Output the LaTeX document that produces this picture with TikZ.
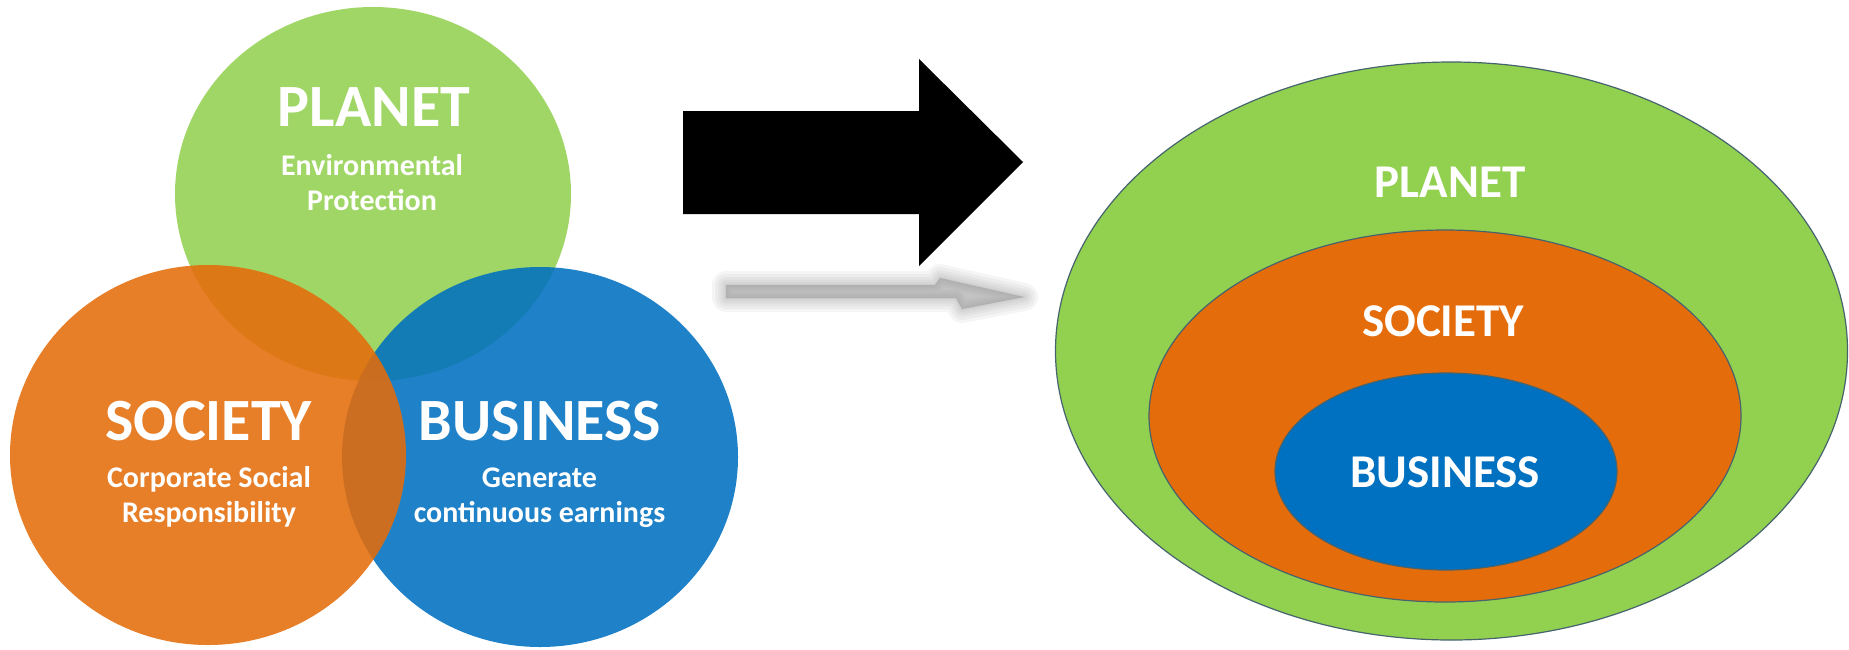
\documentclass[tikz,border=0pt]{standalone}
\usepackage{fontspec}
\setmainfont{Carlito}
\usetikzlibrary{shapes.geometric}
\definecolor{planetgreen}{RGB}{146,208,80}
\definecolor{societyorange}{RGB}{228,108,10}
\definecolor{businessblue}{RGB}{0,112,192}
\definecolor{ringline}{RGB}{70,100,110}

\begin{document}
\begin{tikzpicture}[x=1pt,y=-1pt,
  venn/.style={ellipse,inner sep=0pt,fill opacity=0.88},
  ring/.style={ellipse,inner sep=0pt,draw=ringline,line width=1.2pt},
  bigtxt/.style={text=white,font=\fontsize{60}{60}\selectfont\bfseries,inner sep=0pt},
  subtxt/.style={text=white,font=\fontsize{30}{35}\selectfont\bfseries,align=center,anchor=base,inner sep=0pt},
  ringtxt/.style={text=white,font=\fontsize{47}{47}\selectfont\bfseries,inner sep=0pt}]
\useasboundingbox (0,0) rectangle (1849,649);
% three overlapping circles
\node[venn,fill=planetgreen,minimum width=396pt,minimum height=374pt] (planetL) at (373,194) {};
\node[venn,fill=businessblue,minimum width=396pt,minimum height=380pt] (businessL) at (540,457) {};
\node[venn,fill=societyorange,minimum width=396pt,minimum height=380pt] (societyL) at (208,455) {};
\node[bigtxt] (planetT) at (374,107.5) {PLANET};
\node[subtxt] (planetS) at (372,210) {Environmental\\Protection};
\node[bigtxt] (societyT) at (208.5,421) {SOCIETY};
\node[subtxt] (societyS) at (209,522) {Corporate Social\\Responsibility};
\node[bigtxt] (businessT) at (540,421) {BUSINESS};
\node[subtxt] (businessS) at (539.5,522) {Generate\\continuous earnings};
% arrow with its soft shadow
\foreach \w in {28,22,16,11,6,2}
  \filldraw[black!50,opacity=0.08,line width=\w pt,line join=round]
    (726,285) -- (935,285) -- (940,278) -- (1024,297) -- (962,309) -- (956,298) -- (726,298) -- cycle;
\fill[black] (683,111) -- (919,111) -- (919,59) -- (1023,162) -- (919,266) -- (919,214) -- (683,214) -- cycle;
% nested ellipses
\node[ring,fill=planetgreen,minimum width=792pt,minimum height=578pt] (planetR) at (1451.5,351) {};
\node[ring,fill=societyorange,minimum width=592pt,minimum height=372pt] (societyR) at (1445,416) {};
\node[ring,fill=businessblue,minimum width=342pt,minimum height=197pt] (businessR) at (1446,471.5) {};
\node[ringtxt] (planetRT) at (1450,182) {PLANET};
\node[ringtxt] (societyRT) at (1443,321) {SOCIETY};
\node[ringtxt] (businessRT) at (1445,472) {BUSINESS};
\end{tikzpicture}
\end{document}
